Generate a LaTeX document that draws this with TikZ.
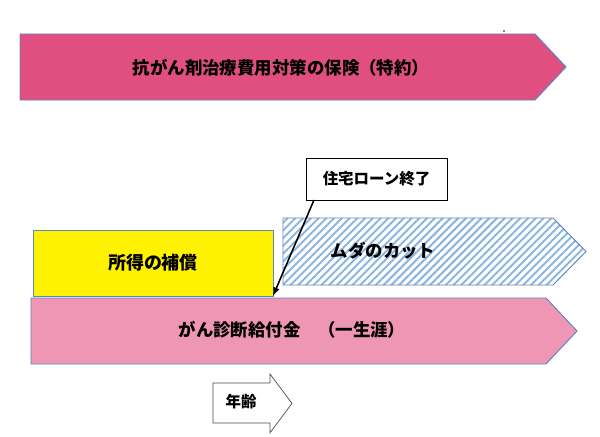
\documentclass[tikz,border=0pt]{standalone}
\usepackage{fontspec}
\newfontfamily\jpfont{Noto Sans CJK JP}
\usetikzlibrary{patterns.meta}
\definecolor{barblue}{RGB}{95,135,190}
\definecolor{rosefill}{RGB}{224,79,127}
\definecolor{pinkfill}{RGB}{238,150,180}
\definecolor{hatchblue}{RGB}{140,180,225}

\begin{document}
\begin{tikzpicture} [scale = 1, font={\jpfont\bfseries\fontsize{12.4}{14}\selectfont},
  bar/.style={draw=barblue, line width=0.7pt},
  label/.style={black, inner sep=0pt}]
\useasboundingbox (0, 0) rectangle (15, 10.9);
\draw[bar, fill=rosefill] (0.5, 10.05) -- (13.375, 10.05) -- (14.15, 9.225) -- (13.375, 8.4) -- (0.5, 8.4) -- cycle;
\node[label] (special) at (7.025, 9.2){抗がん剤治療費用対策の保険（特約）};
\fill[black] (12.6, 10.125) circle (0.02);
\draw[bar, pattern={Lines[angle=45, distance=3.9pt, line width=1.4pt]}, pattern color=hatchblue] (7.075, 5.45) -- (13.825, 5.45) -- (14.65, 4.6125) -- (13.825, 3.775) -- (7.075, 3.775) -- cycle;
\node[label] (cut) at (9.575, 4.625){ムダのカット};
\draw[bar, fill=pinkfill] (0.775, 3.45) -- (13.65, 3.45) -- (14.425, 2.625) -- (13.65, 1.8) -- (0.775, 1.8) -- cycle;
\node[label] (lifetime) at (7.3, 2.65){がん診断給付金　（一生涯）};
\node[bar, fill=yellow, inner sep=0pt, outer sep=0pt, minimum width=6cm, minimum height=1.65cm, font={\jpfont\bfseries\fontsize{12.8}{14}\selectfont}] (income) at (3.825, 4.325){所得の補償};
\node[draw=black, fill=white, line width=0.7pt, inner sep=0pt, outer sep=0pt, minimum width=3.525cm, minimum height=1.05cm, font={\jpfont\bfseries\fontsize{11}{13}\selectfont}] (loan) at (9.4125, 6.425){住宅ローン終了};
\coordinate (loanfoot) at (7.85, 5.9);
\draw[black, line width=1.1pt, -latex] (loanfoot) -- (income.south east);
\draw[black!70, line width=0.5pt, fill=white] (5.325, 1.325) -- (6.75, 1.325) -- (6.75, 1.55) -- (7.3, 0.815) -- (6.75, 0.08) -- (6.75, 0.325) -- (5.325, 0.325) -- cycle;
\node[label, font={\jpfont\bfseries\fontsize{11}{13}\selectfont}] (age) at (6.025, 0.85){年齢};
\end{tikzpicture}
\end{document}
